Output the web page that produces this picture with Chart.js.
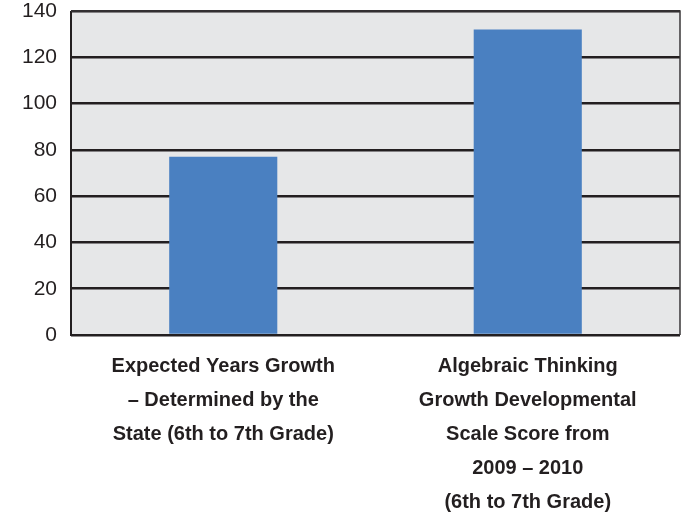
<!DOCTYPE html>
<html>
<head>
<meta charset="utf-8">
<script src="https://cdn.jsdelivr.net/npm/chart.js@4"></script>
<style>
  html, body { margin: 0; padding: 0; background: #fff; }
  #wrap { width: 681px; height: 516px; }
</style>
</head>
<body>
<div id="wrap"><canvas id="chart" width="681" height="516"></canvas></div>
<script>
const categories = [
    ['Expected Years Growth', '– Determined by the', 'State (6th to 7th Grade)'],
    ['Algebraic Thinking', 'Growth Developmental', 'Scale Score from', '2009 – 2010', '(6th to 7th Grade)']
];
const growthValues = [77, 132];
const yTicks = [0, 20, 40, 60, 80, 100, 120, 140];

const ink = '#231f20';

// gray plot background + frame
const plotFramePlugin = {
    id: 'plotFrame',
    beforeDraw(chart) {
        const { ctx, chartArea: a } = chart;
        ctx.save();
        ctx.fillStyle = '#e6e7e8';
        ctx.fillRect(a.left, a.top, a.right - a.left, a.bottom - a.top);
        ctx.restore();
    },
    afterDatasetsDraw(chart) {
        const { ctx, chartArea: a } = chart;
        ctx.save();
        ctx.strokeStyle = ink;
        ctx.lineWidth = 2;
        ctx.beginPath();
        ctx.moveTo(a.left, a.top);
        ctx.lineTo(a.left, a.bottom);
        ctx.lineTo(a.right, a.bottom);
        ctx.stroke();
        ctx.strokeStyle = '#3a3738';
        ctx.lineWidth = 1.5;
        ctx.beginPath();
        ctx.moveTo(a.left, a.top);
        ctx.lineTo(a.right, a.top);
        ctx.lineTo(a.right, a.bottom);
        ctx.stroke();
        ctx.restore();
    }
};

const ctx = document.getElementById('chart').getContext('2d');

new Chart(ctx, {
    type: 'bar',
    data: {
        labels: categories,
        datasets: [{
            data: growthValues,
            backgroundColor: '#4a80c1',
            borderWidth: 0,
            barPercentage: 0.355,
            categoryPercentage: 1
        }]
    },
    options: {
        responsive: false,
        animation: false,
        layout: { padding: { top: 11, right: 1, left: 0, bottom: 0 } },
        plugins: {
            legend: { display: false },
            tooltip: { enabled: false }
        },
        scales: {
            x: {
                grid: { display: false, drawTicks: false },
                border: { display: false },
                ticks: {
                    color: ink,
                    padding: 14,
                    maxRotation: 0,
                    autoSkip: false,
                    font: { family: 'Liberation Sans', size: 20, weight: 'bold', lineHeight: 34 / 20 }
                },
                afterFit(scale) {
                    scale.height = 181;
                    scale.paddingLeft = 0;
                    scale.paddingRight = 0;
                }
            },
            y: {
                min: 0,
                max: 140,
                afterBuildTicks(scale) {
                    scale.ticks = yTicks.map(v => ({ value: v }));
                },
                grid: { color: ink, lineWidth: 2.5, drawTicks: false },
                border: { display: false },
                ticks: {
                    color: ink,
                    padding: 14,
                    font: { family: 'Liberation Sans', size: 21 }
                },
                afterFit(scale) {
                    scale.width = 71;
                    scale.paddingTop = 0;
                    scale.paddingBottom = 0;
                }
            }
        }
    },
    plugins: [plotFramePlugin]
});
</script>
</body>
</html>
